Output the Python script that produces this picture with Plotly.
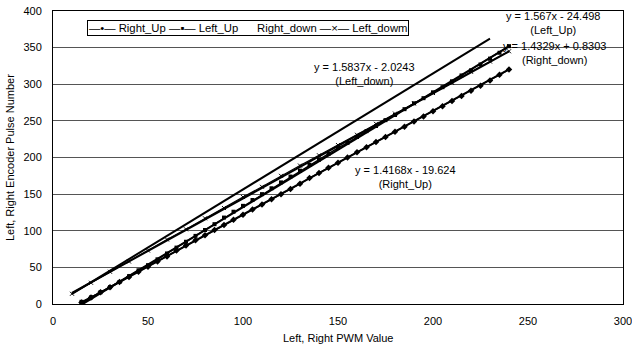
import plotly.graph_objects as go

# ---- data ----
x_up = list(range(15, 245, 5))
right_up = [2, 9, 16, 23, 30, 37, 44, 51, 58, 65, 73, 80, 87, 94, 101, 108, 115, 122, 129, 136,
            143, 150, 157, 164, 172, 179, 186, 193, 200, 207, 214, 221, 228, 235, 242, 249, 256,
            263, 270, 277, 284, 291, 298, 305, 313, 320]
left_up = [3, 9, 16, 23, 30, 38, 46, 53, 61, 69, 77, 85, 93, 101, 109, 118, 126, 134, 142, 150,
           158, 166, 174, 182, 190, 197, 205, 213, 220, 228, 236, 243, 251, 258, 266, 274, 281,
           289, 296, 304, 312, 319, 327, 335, 343, 352]
x_down = list(range(10, 250, 10))
left_down = [14, 29, 44, 58, 73, 88, 102, 117, 131, 146, 160, 175, 189, 203, 217, 231, 246,
             260, 274, 288, 302, 317, 331, 345]

# trend lines (slope, intercept, x start, x end)
trends = {
    "Right_Up": (1.4168, -19.624, 15, 240),
    "Left_Up": (1.567, -24.498, 15, 240),
    "Right_down": (1.4329, 0.8303, 10, 240),
    "Left_down": (1.5837, -2.0243, 10, 230),
}

x_ticks = [0, 50, 100, 150, 200, 250, 300]
y_ticks = [0, 50, 100, 150, 200, 250, 300, 350, 400]

FONT = "Liberation Sans, Arial, sans-serif"

fig = go.Figure()

# trend lines
for name, (m, b, x0, x1) in trends.items():
    fig.add_trace(go.Scatter(x=[x0, x1], y=[m * x0 + b, m * x1 + b], mode="lines",
                             line=dict(color="black", width=2), showlegend=False,
                             hoverinfo="skip"))

fig.add_trace(go.Scatter(x=x_up, y=right_up, name="Right_Up", mode="lines+markers",
                         line=dict(color="black", width=1.4), showlegend=False,
                         marker=dict(symbol="diamond", size=5, color="black")))
fig.add_trace(go.Scatter(x=x_up, y=left_up, name="Left_Up", mode="lines+markers",
                         line=dict(color="black", width=1.4), showlegend=False,
                         marker=dict(symbol="square", size=4, color="black")))
fig.add_trace(go.Scatter(x=x_down, y=left_down, name="Left_dowm", mode="lines+markers",
                         line=dict(color="black", width=1.2), showlegend=False,
                         marker=dict(symbol="x-thin", size=4, color="black",
                                     line=dict(color="black", width=1))))

annots = [
    (263, 384, "y = 1.567x - 24.498<br>(Left_Up)"),
    (264, 342, "y = 1.4329x + 0.8303<br>(Right_down)"),
    (164, 314, "y = 1.5837x - 2.0243<br>(Left_down)"),
    (185.5, 173, "y = 1.4168x - 19.624<br>(Right_Up)"),
]
for ax, ay, t in annots:
    fig.add_annotation(x=ax, y=ay, text=t, showarrow=False, align="center",
                       font=dict(family=FONT, size=11, color="black"))

# legend box
fig.add_annotation(xref="paper", yref="paper", x=0.342, y=0.942, xanchor="center",
                   yanchor="middle", showarrow=False,
                   text="—•— Right_Up —▪— Left_Up      Right_down —×— Left_dowm",
                   font=dict(family=FONT, size=11.3, color="black"),
                   bordercolor="black", borderwidth=1, borderpad=1, bgcolor="white")

# axis titles
fig.add_annotation(xref="paper", yref="paper", x=0.5, y=-0.116, xanchor="center",
                   yanchor="middle", showarrow=False, text="Left, Right PWM Value",
                   font=dict(family=FONT, size=11, color="black"))
fig.add_annotation(xref="paper", yref="paper", x=-0.0754, y=0.498, xanchor="center",
                   yanchor="middle", showarrow=False, textangle=-90,
                   text="Left, Right Encoder Pulse Number",
                   font=dict(family=FONT, size=11, color="black"))

fig.update_layout(
    width=632, height=349,
    margin=dict(l=53, r=9, t=11, b=45),
    paper_bgcolor="white", plot_bgcolor="white",
    font=dict(family=FONT, size=11, color="black"),
    showlegend=False,
    xaxis=dict(range=[0, 300], tickvals=x_ticks, showgrid=False, zeroline=False,
               showline=True, linecolor="black", linewidth=1, mirror=True,
               ticks="", ticklabelstandoff=7, automargin=False,
               ticklabeloverflow="allow"),
    yaxis=dict(range=[0, 400], tickvals=y_ticks, showgrid=True, gridcolor="#555",
               gridwidth=1, zeroline=False,
               showline=True, linecolor="black", linewidth=1, mirror=True,
               ticks="", ticklabelstandoff=8, automargin=False,
               ticklabeloverflow="allow"),
)

fig.write_html("out.html", config={"displayModeBar": False},
               post_script="document.body.style.margin='0';document.body.style.overflow='hidden';")
